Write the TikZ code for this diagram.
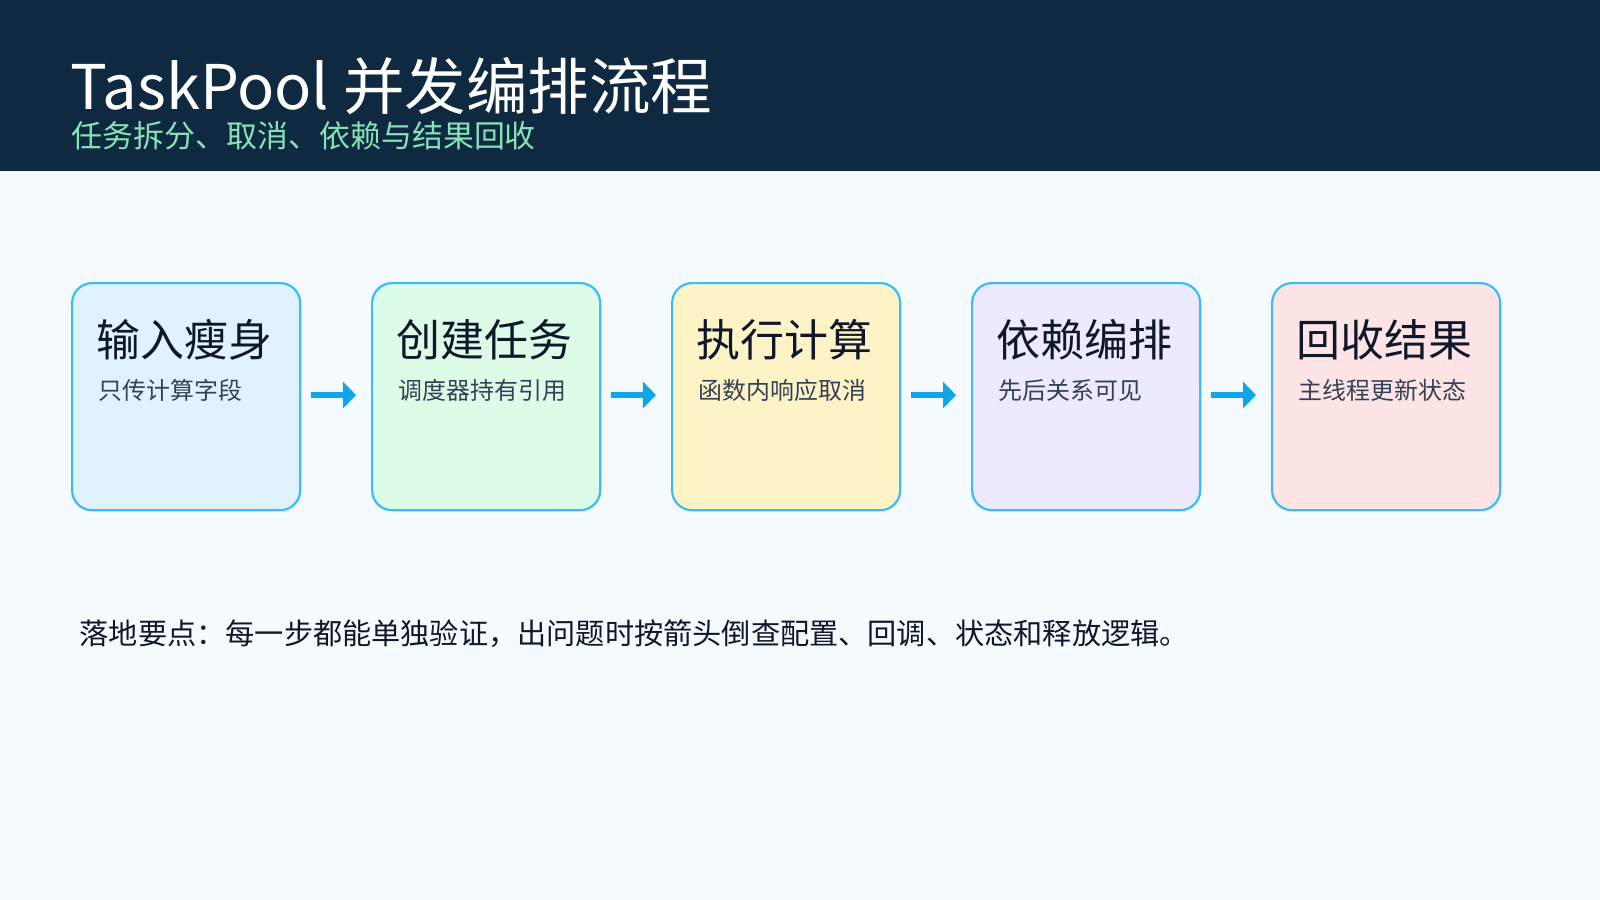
\documentclass[tikz,border=0pt]{standalone}
\usepackage{fontspec}
\setmainfont{Noto Sans CJK SC}
\usetikzlibrary{arrows.meta}
\definecolor{hdr}{HTML}{0F2940}
\definecolor{sub}{HTML}{86E3B8}
\definecolor{bg}{HTML}{F5FAFF}
\definecolor{bd}{HTML}{38BDF8}
\definecolor{arr}{HTML}{0EA5E9}
\definecolor{ink}{HTML}{0F172A}
\definecolor{gr}{HTML}{334155}
\definecolor{f1}{HTML}{E0F2FE}
\definecolor{f2}{HTML}{DCFCE7}
\definecolor{f3}{HTML}{FEF3C7}
\definecolor{f4}{HTML}{EDE9FE}
\definecolor{f5}{HTML}{FFE4E6}
\tikzset{
 box/.style={draw=bd,line width=2.2pt*0.2845,rounded corners=20*0.2845pt,minimum width=228*0.2845pt,minimum height=227*0.2845pt,inner sep=0pt,anchor=north west},
 ttl/.style={anchor=base west,text=ink,font=\fontsize{12.5}{14}\selectfont},
 st/.style={anchor=base west,text=gr,font=\fontsize{6.8}{8}\selectfont},
 ar/.style={draw=arr,line width=6*0.2845pt,-{Triangle[length=13*0.2845pt,width=26*0.2845pt]}},
}
\begin{document}
\begin{tikzpicture}[x=0.01cm,y=-0.01cm]
\useasboundingbox (0,0) rectangle (1600,900);
\fill[bg] (0,0) rectangle (1600,900);
\fill[hdr] (0,0) rectangle (1600,171);
\node[anchor=base west,text=white,font=\fontsize{17.5}{20}\selectfont,inner sep=0pt] (title) at (70,110) {TaskPool 并发编排流程};
\node[anchor=base west,text=sub,font=\fontsize{8.8}{10}\selectfont,inner sep=0pt] (subt) at (71,147) {任务拆分、取消、依赖与结果回收};
\foreach \i/\f/\a/\b in {0/f1/输入瘦身/只传计算字段,1/f2/创建任务/调度器持有引用,2/f3/执行计算/函数内响应取消,3/f4/依赖编排/先后关系可见,4/f5/回收结果/主线程更新状态}{
  \node[box,fill=\f] (b\i) at (71+300*\i,282) {};
  \node[ttl,inner sep=0pt] (t\i) at (96+300*\i,356) {\a};
  \node[st,inner sep=0pt] (s\i) at (98+300*\i,399) {\b};
}
\foreach \i/\j in {0/1,1/2,2/3,3/4}{
  \coordinate (p\i) at ([xshift=10*0.2845pt,yshift=-113*0.2845pt]b\i.north east);
  \coordinate (q\i) at ([xshift=-15*0.2845pt,yshift=-113*0.2845pt]b\j.north west);
  \draw[ar] (p\i) -- (q\i);
}
\node[anchor=base west,text=ink,font=\fontsize{8.3}{10}\selectfont,inner sep=0pt] (note) at (79,644) {落地要点：每一步都能单独验证，出问题时按箭头倒查配置、回调、状态和释放逻辑。};
\end{tikzpicture}
\end{document}
